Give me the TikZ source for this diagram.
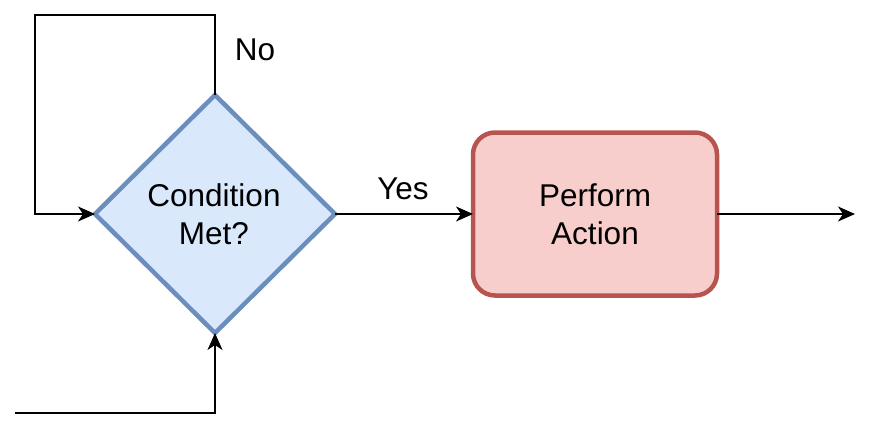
\documentclass[tikz,border=0pt]{standalone}
\usepackage{fontspec}
\setmainfont{Liberation Sans}
\usetikzlibrary{shapes.geometric,arrows.meta}
\definecolor{dfill}{HTML}{DAE8FC}
\definecolor{dline}{HTML}{6C8EBF}
\definecolor{rfill}{HTML}{F8CECC}
\definecolor{rline}{HTML}{B85450}
\tikzset{
  conn/.style={line width=2pt, draw=black, -{Stealth[length=17pt,width=15pt,inset=5pt]}},
  lbl/.style={font=\fontsize{31.5}{38}\selectfont, align=center, inner sep=0pt},
  decision/.style={diamond, draw=dline, fill=dfill, line width=4.5pt, minimum width=240pt, minimum height=238pt, inner sep=0pt, outer sep=0pt},
  action/.style={rectangle, rounded corners=22pt, draw=rline, fill=rfill, line width=4.5pt, minimum width=244pt, minimum height=163pt, inner sep=0pt, outer sep=0pt},
}
\begin{document}
\begin{tikzpicture}[x=1pt,y=-1pt]
\useasboundingbox (0,0) rectangle (874,434);
\node[decision] (d) at (215,214) {};
\node[lbl] (dt) at (214,214) {Condition\\Met?};
\node[action] (a) at (595,214) {};
\node[lbl] (at) at (595,214) {Perform\\Action};
\coordinate (l1) at (215,15);
\coordinate (l2) at (35,15);
\coordinate (l3) at (35,214);
\coordinate (s0) at (15,413);
\coordinate (s1) at (215,413);
\coordinate (out) at (855,214);
\draw[conn] (d.north) -- (l1) -- (l2) -- (l3) -- (d.west);
\draw[conn] (s0) -- (s1) -- (d.south);
\draw[conn] (d.east) -- (a.west);
\draw[conn] (a.east) -- (out);
\node[lbl] (no) at (255,50) {No};
\node[lbl] (yes) at (403,189) {Yes};
\end{tikzpicture}
\end{document}
